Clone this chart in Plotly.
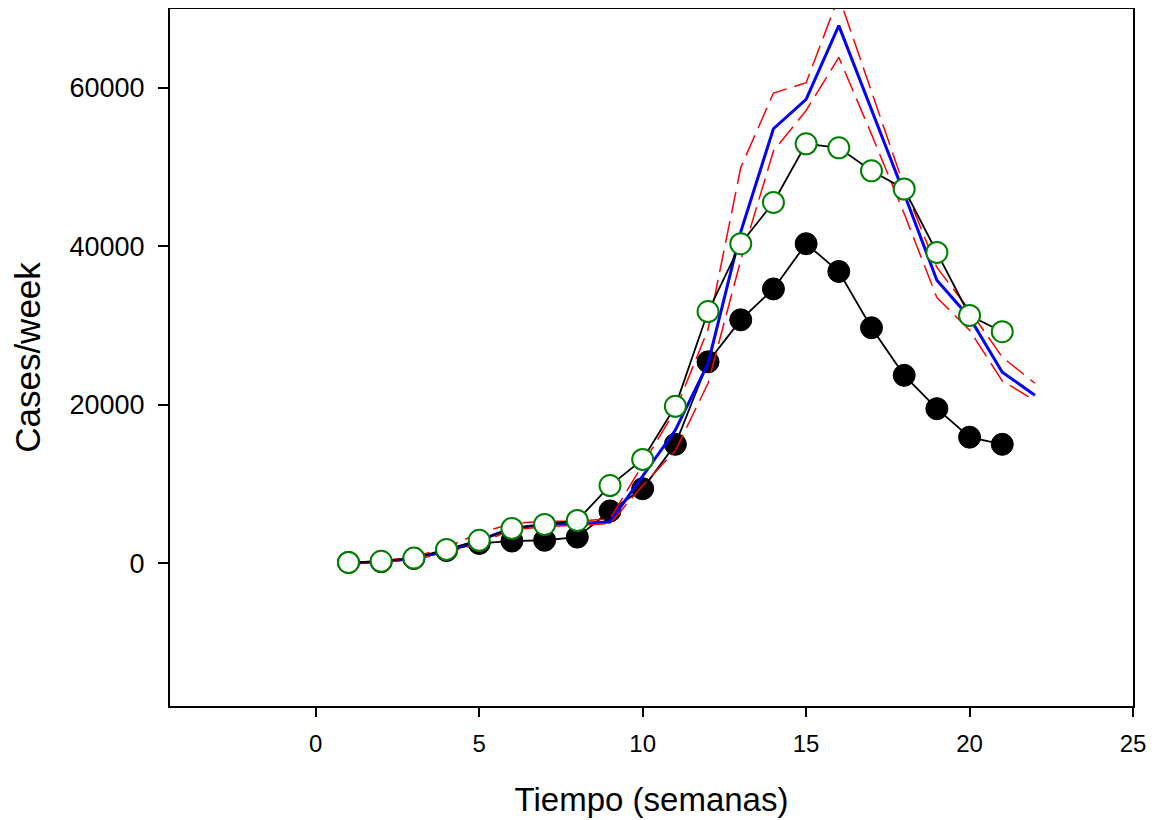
import plotly.graph_objects as go

weeks_obs = list(range(1, 22))
weeks_model = list(range(1, 23))

# Black filled circles (observed cases)
observed = [100, 200, 600, 1600, 2500, 2800, 2900, 3300, 6600, 9400, 15000,
            25400, 30700, 34600, 40300, 36800, 29700, 23700, 19500, 15900, 15000]

# Green open circles
corrected = [100, 250, 650, 1750, 2900, 4400, 4900, 5400, 9800, 13100, 19800,
             31750, 40300, 45500, 52900, 52400, 49500, 47200, 39200, 31250, 29200]

# Blue model line
model = [0, 200, 600, 1500, 2900, 4400, 4900, 5000, 5200, 10950, 16800,
         25200, 41800, 54800, 58500, 67800, 57300, 46600, 35700, 31000, 24100, 21200]

# Red dashed bounds
upper = [100, 300, 800, 2000, 3800, 5000, 5300, 5300, 5600, 12500, 19300,
         29500, 49900, 59300, 60600, 71500, 59600, 47500, 37300, 31900, 26000, 22700]
lower = [0, 150, 500, 1300, 2500, 4200, 4600, 4800, 5000, 9800, 14200,
         22700, 38200, 52000, 57100, 63800, 54100, 44100, 33500, 29400, 23000, 20500]

x_ticks = [0, 5, 10, 15, 20, 25]
y_ticks = [0, 20000, 40000, 60000]
y_tick_text = ["0", "20000", "40000", "60000"]

FONT = "Arial, Liberation Sans, sans-serif"

fig = go.Figure()

fig.add_trace(go.Scatter(
    x=weeks_obs, y=observed, mode="lines+markers",
    line=dict(color="black", width=1.8),
    marker=dict(symbol="circle", size=22, color="black", line=dict(color="black", width=1)),
    showlegend=False))

fig.add_trace(go.Scatter(
    x=weeks_model, y=model, mode="lines",
    line=dict(color="#0000ff", width=3),
    showlegend=False))

fig.add_trace(go.Scatter(
    x=weeks_model, y=upper, mode="lines",
    line=dict(color="#ff0000", width=1.5, dash="22px,8px"),
    showlegend=False))

fig.add_trace(go.Scatter(
    x=weeks_model, y=lower, mode="lines",
    line=dict(color="#ff0000", width=1.5, dash="22px,8px"),
    showlegend=False))

fig.add_trace(go.Scatter(
    x=weeks_obs, y=corrected, mode="lines+markers",
    line=dict(color="black", width=1.8),
    marker=dict(symbol="circle", size=21, color="white", line=dict(color="#008000", width=2)),
    showlegend=False))

# page body has an 8px margin: compensate so the plot area lands at about 170..1133 x 9..706
fig.update_layout(
    width=1147, height=812,
    margin=dict(l=162, r=22, t=1, b=114),
    plot_bgcolor="white", paper_bgcolor="white",
    font=dict(family=FONT, color="black", size=22),
    xaxis=dict(
        range=[-4.46, 25], tickmode="array", tickvals=x_ticks,
        ticktext=[str(v) for v in x_ticks],
        showgrid=False, zeroline=False, automargin=False,
        showline=True, linecolor="black", linewidth=2, mirror=True,
        ticks="outside", ticklen=9, tickwidth=2, tickcolor="black",
        tickfont=dict(size=24, family=FONT, color="black"), ticklabelstandoff=6,
        title=dict(text="Tiempo (semanas)", font=dict(size=33, family=FONT), standoff=32),
    ),
    yaxis=dict(
        range=[-18000, 69900], tickmode="array", tickvals=y_ticks,
        ticktext=y_tick_text,
        showgrid=False, zeroline=False, automargin=False,
        showline=True, linecolor="black", linewidth=2, mirror=True,
        ticks="outside", ticklen=10, tickwidth=2, tickcolor="black",
        tickfont=dict(size=27, family=FONT, color="black"), ticklabelstandoff=8,
        title=dict(text="Cases/week", font=dict(size=35, family=FONT), standoff=20),
    ),
)

fig.write_html("out.html")
